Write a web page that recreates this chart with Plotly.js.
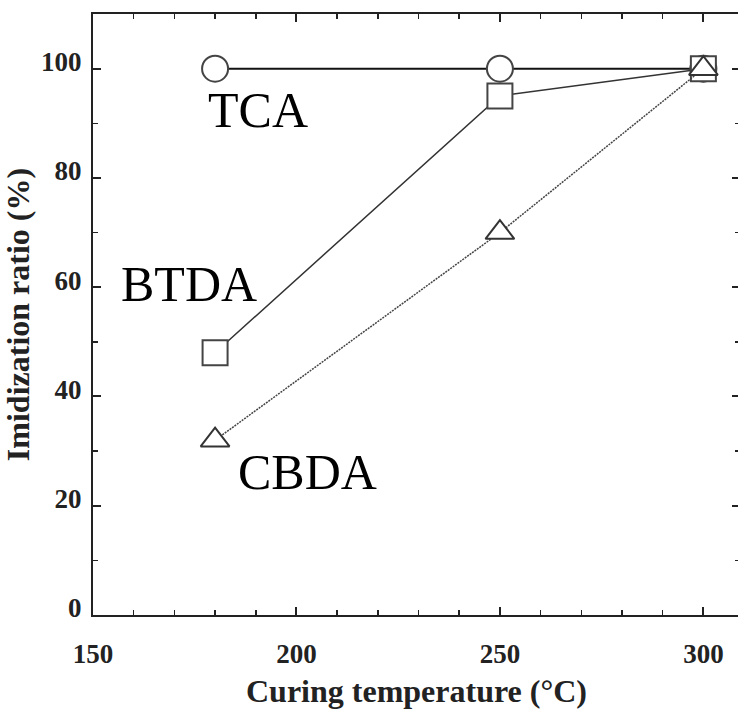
<!DOCTYPE html>
<html>
<head>
<meta charset="utf-8">
<script src="https://cdn.plot.ly/plotly-3.0.1.min.js"></script>
<style>
html,body{margin:0;padding:0;overflow:hidden;background:#fff;}
#chart{width:742px;height:709px;}
</style>
</head>
<body>
<div id="chart"></div>
<script>
// Data
const temps = [180, 250, 300];
const tca = [100, 100, 100];
const btda = [48, 95, 100];
const cbda = [32, 70, 100];

const labelNames = ["TCA", "BTDA", "CBDA"];
const labelX = [190.6, 173.6, 202.6];
const labelY = [92.4, 60.6, 26.2];

const serif = "Liberation Serif, Times New Roman, serif";

const traces = [
  {
    x: temps, y: tca, name: "TCA", mode: "lines+markers",
    line: {color: "#111", width: 2},
    marker: {symbol: "circle", size: 26, color: "#fff", line: {color: "#444", width: 2}}
  },
  {
    x: temps, y: btda, name: "BTDA", mode: "lines+markers",
    line: {color: "#333", width: 1.5},
    marker: {symbol: "square", size: 25, color: "#fff", line: {color: "#444", width: 2}}
  },
  {
    x: temps, y: cbda, name: "CBDA", mode: "lines+markers",
    line: {color: "#444", width: 1.5, dash: "2px,1px"},
    marker: {symbol: "triangle-up", size: 25, color: "#fff", line: {color: "#333", width: 2}}
  }
];

const annotations = labelNames.map((t, i) => ({
  x: labelX[i], y: labelY[i], xref: "x", yref: "y",
  text: t, showarrow: false, xanchor: "center", yanchor: "middle",
  font: {family: serif, size: 50, color: "#000"}
}));

const axisCommon = {
  showline: true, linecolor: "#222", linewidth: 2, mirror: "ticks",
  ticks: "inside", ticklen: 8, tickwidth: 2, tickcolor: "#222",
  showgrid: false, zeroline: false,
  tickfont: {family: serif, size: 27, color: "#222", weight: "bold"}
};

const layout = {
  width: 742, height: 709,
  margin: {l: 93, r: 2, t: 14, b: 94},
  paper_bgcolor: "#fff", plot_bgcolor: "#fff",
  showlegend: false,
  xaxis: Object.assign({}, axisCommon, {
    range: [150, 309], tickvals: [150, 200, 250, 300],
    minor: {dtick: 10, tick0: 150, ticks: "inside", ticklen: 5, tickwidth: 1.5, tickcolor: "#222"},
    ticklabelstandoff: 14,
    title: {text: "Curing temperature (°C)", standoff: 12,
            font: {family: serif, size: 32, color: "#222", weight: "bold"}}
  }),
  yaxis: Object.assign({}, axisCommon, {
    range: [0, 110], tickvals: [0, 20, 40, 60, 80, 100],
    minor: {dtick: 10, tick0: 0, ticks: "inside", ticklen: 5, tickwidth: 1.5, tickcolor: "#222"},
    ticklabelstandoff: 4,
    ticklabelshift: -7,
    title: {text: "Imidization ratio (%)", standoff: 2,
            font: {family: serif, size: 32, color: "#222", weight: "bold"}}
  }),
  annotations: annotations
};

Plotly.newPlot("chart", traces, layout, {staticPlot: true, displayModeBar: false});
</script>
</body>
</html>
